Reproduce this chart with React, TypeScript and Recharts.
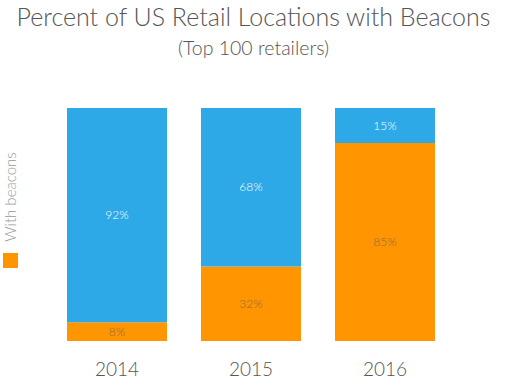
import { BarChart, Bar, XAxis, YAxis, LabelList } from 'recharts'

const years = ['2014', '2015', '2016']
const withBeacons = [8, 32, 85]
const withoutBeacons = [92, 68, 15]

const chartData = years.map((year, i) => ({
  year,
  with: withBeacons[i],
  without: withoutBeacons[i],
}))

const FONT = 'Lato, "Open Sans", sans-serif'

const YearTick = (props: any) => {
  const { x, y, payload } = props
  return (
    <text
      x={x}
      y={y + 19}
      textAnchor='middle'
      dominantBaseline='central'
      fill='#555'
      fontSize={19}
      fontFamily={FONT}
      fontWeight={300}
    >
      {payload.value}
    </text>
  )
}

export default function App() {
  return (
    <div
      style={{
        position: 'absolute',
        left: 0,
        top: 0,
        width: 507,
        height: 386,
        background: '#fff',
        fontFamily: FONT,
      }}
    >
      <div
        style={{
          position: 'absolute',
          top: 1,
          left: 0,
          width: 507,
          textAlign: 'center',
          fontSize: 25,
          fontWeight: 300,
          color: '#555',
        }}
      >
        Percent of US Retail Locations with Beacons
      </div>
      <div
        style={{
          position: 'absolute',
          top: 36,
          left: 0,
          width: 507,
          textAlign: 'center',
          fontSize: 19.5,
          fontWeight: 300,
          color: '#555',
        }}
      >
        (Top 100 retailers)
      </div>
      <div
        style={{
          position: 'absolute',
          left: 10,
          top: 197,
          transform: 'translate(-50%, -50%) rotate(-90deg)',
          whiteSpace: 'nowrap',
          fontSize: 15,
          fontWeight: 300,
          color: '#999',
        }}
      >
        With beacons
      </div>
      <div
        style={{
          position: 'absolute',
          left: 3,
          top: 253,
          width: 15,
          height: 15,
          background: '#ff9500',
        }}
      />
      <BarChart
        width={507}
        height={386}
        data={chartData}
        margin={{ top: 108, right: 55, bottom: 5, left: 50 }}
        barCategoryGap={17}
      >
        <XAxis
          dataKey='year'
          axisLine={false}
          tickLine={false}
          height={40}
          tick={<YearTick />}
        />
        <YAxis hide domain={[0, 100]} />
        <Bar dataKey='with' stackId='a' fill='#ff9500' isAnimationActive={false}>
          <LabelList
            dataKey='with'
            position='center'
            formatter={(v: any) => `${v}%`}
            fill='#8f6a42'
            fontSize={12}
            fontFamily={FONT}
            fontWeight={300}
          />
        </Bar>
        <Bar dataKey='without' stackId='a' fill='#2ca9e6' isAnimationActive={false}>
          <LabelList
            dataKey='without'
            position='center'
            formatter={(v: any) => `${v}%`}
            fill='#ffffff'
            fontSize={12}
            fontFamily={FONT}
            fontWeight={300}
          />
        </Bar>
      </BarChart>
    </div>
  )
}
